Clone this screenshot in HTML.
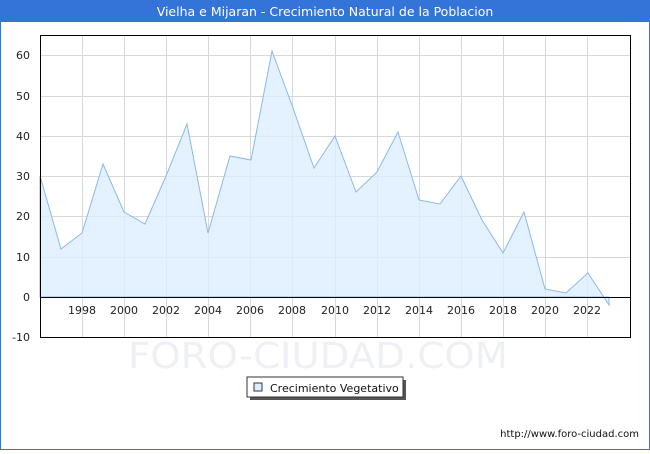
<!DOCTYPE html>
<html><head><style>
body{margin:0;width:650px;height:450px;overflow:hidden;background:#fff;font-family:"DejaVu Sans","Liberation Sans",sans-serif}
</style></head><body>
<svg width="650" height="450" xmlns="http://www.w3.org/2000/svg" font-family="DejaVu Sans, Liberation Sans, sans-serif">
<rect x="0.5" y="0.5" width="649" height="449" fill="#fff" stroke="#3474d8"/>
<rect x="0" y="0" width="650" height="22" fill="#3474d8"/>
<text x="325" y="16" text-anchor="middle" font-size="12.5" fill="#fff">Vielha e Mijaran - Crecimiento Natural de la Poblacion</text>
<g stroke="#d8d8d8" stroke-width="1">
<line x1="40" y1="55.5" x2="630" y2="55.5"/><line x1="40" y1="96.5" x2="630" y2="96.5"/><line x1="40" y1="136.5" x2="630" y2="136.5"/><line x1="40" y1="176.5" x2="630" y2="176.5"/><line x1="40" y1="216.5" x2="630" y2="216.5"/><line x1="40" y1="257.5" x2="630" y2="257.5"/>
<line x1="82.5" y1="35" x2="82.5" y2="338"/><line x1="124.5" y1="35" x2="124.5" y2="338"/><line x1="166.5" y1="35" x2="166.5" y2="338"/><line x1="208.5" y1="35" x2="208.5" y2="338"/><line x1="250.5" y1="35" x2="250.5" y2="338"/><line x1="292.5" y1="35" x2="292.5" y2="338"/><line x1="335.5" y1="35" x2="335.5" y2="338"/><line x1="377.5" y1="35" x2="377.5" y2="338"/><line x1="419.5" y1="35" x2="419.5" y2="338"/><line x1="461.5" y1="35" x2="461.5" y2="338"/><line x1="503.5" y1="35" x2="503.5" y2="338"/><line x1="545.5" y1="35" x2="545.5" y2="338"/><line x1="587.5" y1="35" x2="587.5" y2="338"/>
</g>
<text x="128" y="368" textLength="380" lengthAdjust="spacingAndGlyphs" font-size="36" fill="#eef0f6">FORO-CIUDAD.COM</text>
<polygon fill="#ddeeff" fill-opacity="0.8" stroke="#8db8e8" stroke-width="1" points="40,297 40,176 61,249 82,233 103,164 124,212 145,224 166,176 187,124 208,233 230,156 251,160 272,51 293,108 314,168 335,136 356,192 377,172 398,132 419,200 440,204 461,176 482,220 503,253 524,212 545,289 566,293 588,273 609,305 609,297"/>
<line x1="40" y1="297.5" x2="630" y2="297.5" stroke="#000"/>
<rect x="40.5" y="35.5" width="590" height="302" fill="none" stroke="#000"/>
<g font-size="11" fill="#222" text-anchor="end">
<text x="30" y="59">60</text><text x="30" y="100">50</text><text x="30" y="140">40</text><text x="30" y="180">30</text><text x="30" y="220">20</text><text x="30" y="261">10</text><text x="30" y="301">0</text><text x="30" y="341">-10</text>
</g>
<g font-size="11" fill="#222" text-anchor="middle">
<text x="82" y="314">1998</text><text x="124" y="314">2000</text><text x="166" y="314">2002</text><text x="208" y="314">2004</text><text x="250" y="314">2006</text><text x="292" y="314">2008</text><text x="335" y="314">2010</text><text x="377" y="314">2012</text><text x="419" y="314">2014</text><text x="461" y="314">2016</text><text x="503" y="314">2018</text><text x="545" y="314">2020</text><text x="587" y="314">2022</text>
</g>
<rect x="250" y="380" width="156" height="20" fill="#555"/>
<rect x="247" y="377" width="156" height="20" fill="#fff" stroke="#333"/>
<rect x="254" y="383" width="8" height="8" fill="#ddeeff" stroke="#333"/>
<text x="270" y="392" font-size="11" fill="#111">Crecimiento Vegetativo</text>
<text x="639" y="437" text-anchor="end" font-size="10" fill="#111">http://www.foro-ciudad.com</text>
</svg>
</body></html>
